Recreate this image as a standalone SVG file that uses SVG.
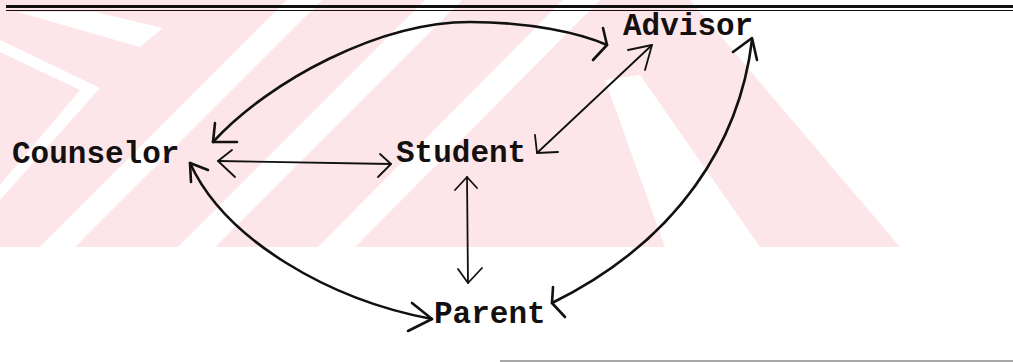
<svg xmlns="http://www.w3.org/2000/svg" width="1013" height="362" viewBox="0 0 1013 362">
  <defs>
    <style>
      .wm { fill: #fde6ea; }
      .gap { fill: #ffffff; }
      .lbl { font-family: "Liberation Mono", "Courier New", monospace; font-size: 31px; font-weight: bold; fill: #141010; }
      .c { fill: none; stroke: #111; stroke-linecap: round; stroke-linejoin: round; }
      .thick { stroke-width: 2.6; }
      .thin { stroke-width: 1.8; }
    </style>
  </defs>
  <rect x="0" y="0" width="1013" height="362" fill="#ffffff"/>
  <g id="watermark">
    <polygon class="wm" points="0,0 690,0 900,247 0,247"/>
    <polygon class="gap" points="18,12 95,12 163,28 140,47"/>
    <polygon class="gap" points="0,40 100,88 0,200 0,185 80,90 0,52"/>
    <polygon class="gap" points="40,247 75,247 322,0 287,0"/>
    <polygon class="gap" points="178,247 215,247 462,0 425,0"/>
    <polygon class="gap" points="318,247 355,247 600,0 563,0"/>
    <polygon class="gap" points="605,80 640,75 760,247 665,247"/>
  </g>
  <g id="rules">
    <line x1="6" y1="6.5" x2="1013" y2="6.5" stroke="#111" stroke-width="3"/>
    <line x1="6" y1="10.5" x2="1013" y2="10.5" stroke="#111" stroke-width="1"/>
    <line x1="500" y1="361" x2="1013" y2="361" stroke="#8a8a8a" stroke-width="1.5"/>
  </g>
  <g id="connectors">
    <!-- Counselor - Advisor -->
    <path class="c thick" d="M213,142 C270,80 380,22 470,22 C530,22 580,33 607,45"/>
    <path class="c thick" d="M215,123 L213,142 L237,142"/>
    <path class="c thick" d="M603,28 L607,45 L593,60"/>
    <!-- Counselor - Student -->
    <path class="c thin" d="M218,161 L391,164"/>
    <path class="c thin" d="M232,150 L218,161 L235,177"/>
    <path class="c thin" d="M380,154 L391,164 L378,177"/>
    <!-- Student - Advisor -->
    <path class="c thin" d="M537,153 L652,45"/>
    <path class="c thin" d="M535,135 L537,153 L558,152"/>
    <path class="c thin" d="M628,50 L652,45 L645,70"/>
    <!-- Student - Parent -->
    <path class="c thin" d="M467,177 L468,283"/>
    <path class="c thin" d="M455,190 L467,177 L477,188"/>
    <path class="c thin" d="M458,269 L468,283 L482,268"/>
    <!-- Counselor - Parent -->
    <path class="c thick" d="M190,163 C225,240 330,300 432,319"/>
    <path class="c thick" d="M191,182 L190,163 L208,170"/>
    <path class="c thick" d="M412,303 L432,319 L408,331"/>
    <!-- Advisor - Parent -->
    <path class="c thick" d="M752,40 C740,140 680,240 552,303"/>
    <path class="c thick" d="M733,52 L752,38 L757,60"/>
    <path class="c thick" d="M553,287 L552,303 L565,317"/>
  </g>
  <g id="node-counselor"><text class="lbl" x="12" y="163">Counselor</text></g>
  <g id="node-student"><text class="lbl" x="396" y="162">Student</text></g>
  <g id="node-advisor"><text class="lbl" x="623" y="35">Advisor</text></g>
  <g id="node-parent"><text class="lbl" x="434" y="323">Parent</text></g>
</svg>
